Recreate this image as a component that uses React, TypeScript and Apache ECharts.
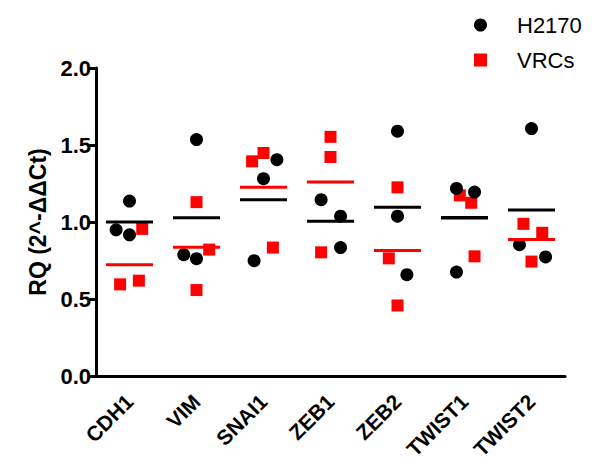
import React, { useEffect, useRef } from "react";
import * as echarts from "echarts";

const genes = ["CDH1", "VIM", "SNAI1", "ZEB1", "ZEB2", "TWIST1", "TWIST2"];

// RQ values, three replicates per gene
const h2170Values = [
  [1.136, 0.949, 0.917],
  [1.535, 0.788, 0.762],
  [1.405, 1.281, 0.749],
  [1.145, 1.038, 0.834],
  [1.59, 1.038, 0.658],
  [1.218, 1.194, 0.675],
  [1.607, 0.853, 0.773],
];
const vrcsValues = [
  [0.955, 0.595, 0.619],
  [1.129, 0.821, 0.558],
  [1.394, 1.448, 0.834],
  [1.553, 1.422, 0.803],
  [1.225, 0.764, 0.458],
  [1.173, 1.125, 0.777],
  [0.988, 0.93, 0.743],
];
// horizontal jitter of each replicate, in category widths
const h2170Jitter = [
  [0, -0.2, 0],
  [0, -0.19, 0],
  [0.2, 0, -0.14],
  [-0.14, 0.15, 0.15],
  [0, 0, 0.14],
  [-0.12, 0.15, -0.12],
  [0, -0.18, 0.21],
];
const vrcsJitter = [
  [0.19, -0.14, 0.14],
  [0, 0.19, 0],
  [-0.17, 0, 0.14],
  [0, 0, -0.14],
  [0, -0.13, 0],
  [-0.07, 0.1, 0.15],
  [-0.12, 0.16, 0],
];
const yTicks = [0, 0.5, 1.0, 1.5, 2.0];

const FONT = "'Liberation Sans', Arial, sans-serif";

const mean = (a: number[]) => a.reduce((s, v) => s + v, 0) / a.length;
const points = (vals: number[][], jit: number[][]) =>
  vals.flatMap((g, i) => g.map((v, j) => [i + jit[i][j], v]));
const means = (vals: number[][]) => vals.map((g, i) => [i, mean(g)]);

export default function App() {
  const ref = useRef<HTMLDivElement>(null);
  useEffect(() => {
    if (!ref.current) return;
    const chart = echarts.init(ref.current, undefined, { renderer: "svg" });
    chart.setOption({
      animation: false,
      backgroundColor: "#fff",
      textStyle: { fontFamily: FONT },
      grid: { left: 96, right: 27, top: 68, bottom: 92, containLabel: false },
      legend: {
        data: [
          { name: "H2170", icon: "circle", itemStyle: { color: "#000" } },
          { name: "VRCs", icon: "rect", itemStyle: { color: "#ff0000" } },
        ],
        orient: "vertical",
        left: 469,
        top: 7,
        itemWidth: 13,
        itemHeight: 13,
        itemGap: 9,
        selectedMode: false,
        textStyle: {
          fontFamily: FONT,
          fontSize: 22,
          color: "#000",
          lineHeight: 26,
          padding: [0, 0, 0, 25],
        },
      },
      xAxis: [
        {
          type: "category",
          data: genes,
          boundaryGap: true,
          axisLine: { onZero: false, lineStyle: { color: "#000", width: 3 } },
          axisTick: {
            alignWithLabel: true,
            length: 8,
            lineStyle: { color: "#000", width: 3 },
          },
          axisLabel: {
            rotate: 45,
            margin: 22,
            interval: 0,
            fontFamily: FONT,
            fontSize: 21,
            fontWeight: "bold",
            color: "#000",
          },
          splitLine: { show: false },
        },
        {
          type: "value",
          min: -0.5,
          max: 6.5,
          show: false,
          splitLine: { show: false },
        },
      ],
      yAxis: {
        type: "value",
        min: 0,
        max: 2,
        interval: 0.5,
        name: "RQ (2^-ΔΔCt)",
        nameLocation: "middle",
        nameGap: 44,
        nameTextStyle: {
          fontFamily: FONT,
          fontSize: 23,
          fontWeight: "bold",
          color: "#000",
        },
        axisLine: {
          show: true,
          onZero: false,
          lineStyle: { color: "#000", width: 3 },
        },
        axisTick: { show: true, length: 8, lineStyle: { color: "#000", width: 3 } },
        axisLabel: {
          margin: 5,
          fontFamily: FONT,
          fontSize: 22,
          fontWeight: "bold",
          color: "#000",
          formatter: (v: number) => (yTicks.includes(v) ? v.toFixed(1) : ""),
        },
        splitLine: { show: false },
      },
      series: [
        {
          name: "VRCs",
          type: "scatter",
          xAxisIndex: 1,
          symbol: "rect",
          symbolSize: 12,
          itemStyle: { color: "#ff0000", opacity: 1 },
          data: points(vrcsValues, vrcsJitter),
          z: 2,
        },
        {
          name: "H2170",
          type: "scatter",
          xAxisIndex: 1,
          symbol: "circle",
          symbolSize: 13,
          itemStyle: { color: "#000", opacity: 1 },
          data: points(h2170Values, h2170Jitter),
          z: 3,
        },
        {
          name: "VRCs mean",
          type: "scatter",
          xAxisIndex: 1,
          symbol: "rect",
          symbolSize: [47, 3],
          itemStyle: { color: "#ff0000", opacity: 1 },
          data: means(vrcsValues),
          z: 4,
          silent: true,
        },
        {
          name: "H2170 mean",
          type: "scatter",
          xAxisIndex: 1,
          symbol: "rect",
          symbolSize: [47, 3],
          itemStyle: { color: "#000", opacity: 1 },
          data: means(h2170Values),
          z: 5,
          silent: true,
        },
      ],
    });
    return () => chart.dispose();
  }, []);
  return (
    <div
      ref={ref}
      style={{ position: "absolute", left: 0, top: 0, width: 592, height: 468 }}
    />
  );
}
